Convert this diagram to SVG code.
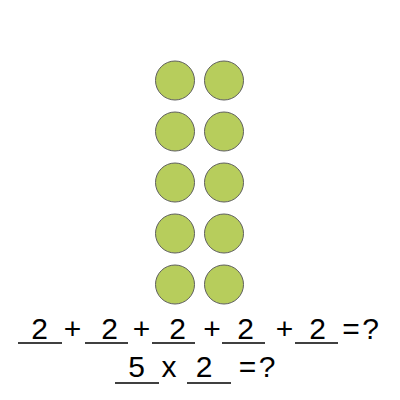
<svg xmlns="http://www.w3.org/2000/svg" width="400" height="400" viewBox="0 0 400 400">
<style>
.dot{fill:#b7cd5c;stroke:#5f5f5f;stroke-width:1}
.t{font-family:"Liberation Sans",Arial,sans-serif;font-size:30px;fill:#000;text-anchor:middle}
.u{stroke:#000;stroke-width:1.6}
</style>
<rect width="400" height="400" fill="#fff"/>
<g id="dots">
<circle class="dot" cx="175" cy="80.5" r="19.5"/>
<circle class="dot" cx="224" cy="80.5" r="19.5"/>
<circle class="dot" cx="175" cy="131.5" r="19.5"/>
<circle class="dot" cx="224" cy="131.5" r="19.5"/>
<circle class="dot" cx="175" cy="182.5" r="19.5"/>
<circle class="dot" cx="224" cy="182.5" r="19.5"/>
<circle class="dot" cx="175" cy="233.5" r="19.5"/>
<circle class="dot" cx="224" cy="233.5" r="19.5"/>
<circle class="dot" cx="175" cy="284.5" r="19.5"/>
<circle class="dot" cx="224" cy="284.5" r="19.5"/>
</g>
<g id="line1">
<line class="u" x1="18" y1="343" x2="62" y2="343"/>
<line class="u" x1="85" y1="343" x2="128" y2="343"/>
<line class="u" x1="152" y1="343" x2="195" y2="343"/>
<line class="u" x1="222" y1="343" x2="265" y2="343"/>
<line class="u" x1="295" y1="343" x2="338" y2="343"/>
<text class="t" x="39.5" y="339">2</text>
<text class="t" x="72.5" y="339">+</text>
<text class="t" x="109.5" y="339">2</text>
<text class="t" x="141.5" y="339">+</text>
<text class="t" x="177.5" y="339">2</text>
<text class="t" x="212" y="339">+</text>
<text class="t" x="245.5" y="339">2</text>
<text class="t" x="284.5" y="339">+</text>
<text class="t" x="317.5" y="339">2</text>
<text class="t" x="351" y="339">=</text>
<text class="t" x="370.5" y="339">?</text>
</g>
<g id="line2">
<line class="u" x1="115" y1="383" x2="159" y2="383"/>
<line class="u" x1="187" y1="383" x2="231" y2="383"/>
<text class="t" x="136.5" y="377">5</text>
<text class="t" x="169" y="377">x</text>
<text class="t" x="204" y="377">2</text>
<text class="t" x="247.5" y="377">=</text>
<text class="t" x="267" y="377">?</text>
</g>
</svg>
